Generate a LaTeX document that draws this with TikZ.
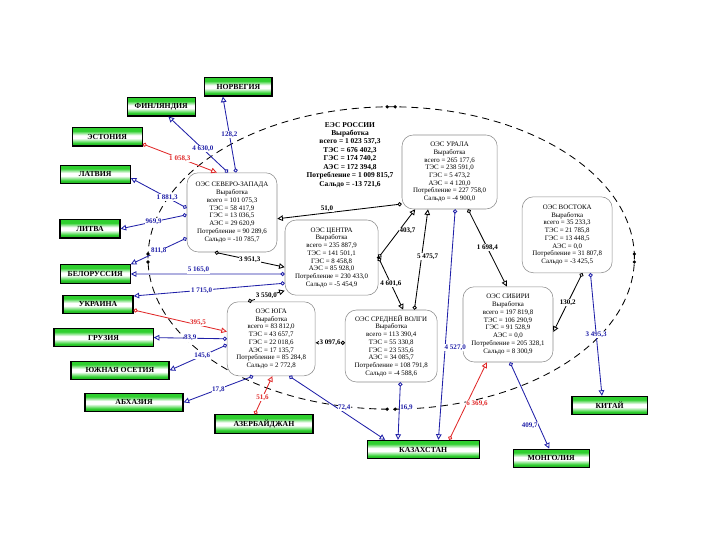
\documentclass[tikz,border=0pt]{standalone}
\usepackage{fontspec}
\setmainfont{Liberation Serif}
\usepackage{xcolor}
\usepackage{tikz}
\usetikzlibrary{arrows.meta}
\definecolor{FlowBlue}{HTML}{2020A8}
\definecolor{FlowRed}{HTML}{E02828}
\definecolor{BoxGreen}{HTML}{2FCF2F}
\definecolor{BoxDark}{HTML}{1FA01F}
\definecolor{RegLine}{HTML}{8C8C8C}
\pgfdeclareverticalshading{boxshade}{100bp}{color(0bp)=(BoxDark); color(25bp)=(BoxDark);
  color(33bp)=(BoxGreen); color(46bp)=(white); color(54bp)=(white); color(66bp)=(BoxGreen);
  color(75bp)=(BoxGreen); color(100bp)=(BoxGreen)}
\tikzset{
  region/.style={draw=RegLine,fill=white,rounded corners=8pt,align=center,inner sep=1pt,
    font=\fontsize{4.9}{5.5}\selectfont},
  country/.style={draw=black,line width=0.8pt,shading=boxshade,
    minimum height=0.46cm,inner sep=1pt,font=\fontsize{5.5}{6}\selectfont\bfseries},
  flowb/.style={FlowBlue,line width=0.6pt,{Circle[open,length=3pt]}-{Triangle[open,length=4pt,width=4pt]}},
  flowr/.style={FlowRed,line width=0.6pt,{Circle[open,length=3pt]}-{Triangle[open,length=4pt,width=4pt]}},
  flowk/.style={black,line width=0.6pt,{Circle[open,length=3pt]}-{Triangle[open,length=4pt,width=4pt]}},
  lblb/.style={FlowBlue,fill=white,inner sep=0.4pt,font=\fontsize{5}{5}\selectfont\bfseries},
  lblr/.style={FlowRed,fill=white,inner sep=0.4pt,font=\fontsize{5}{5}\selectfont\bfseries},
  lblk/.style={black,fill=white,inner sep=0.4pt,font=\fontsize{5}{5}\selectfont\bfseries}
}

\begin{document}
\begin{tikzpicture}[x=1cm,y=1cm]
\path[use as bounding box] (0,0) rectangle (18,13.5);
% border of the UES
\draw[dash pattern=on 5pt off 3.5pt,line width=0.6pt] (9.78,7.05) ellipse (6.08 and 3.78);
\foreach \dx/\dy in {-0.1/3.78,0.1/3.78,-0.1/-3.78,0.1/-3.78,-6.08/0.1,-6.08/-0.1,6.08/0.1,6.08/-0.1}
  \fill ({9.78+\dx},{7.05+\dy}) circle (1.3pt);
% summary
\node[align=center,font=\fontsize{5.3}{6}\selectfont\bfseries] (ees) at (8.75,9.63)
  {ЕЭС РОССИИ\\Выработка\\всего = 1 023 537,3\\ТЭС = 676 402,3\\ГЭС = 174 740,2\\АЭС = 172 394,8\\Потребление = 1 009 815,7\\Сальдо = -13 721,6};
% united power systems
\node[region,minimum width=2.25cm,minimum height=1.98cm] (sz) at (5.80,8.19)
  {ОЭС СЕВЕРО-ЗАПАДА\\Выработка\\всего = 101 075,3\\ТЭС = 58 417,9\\ГЭС = 13 036,5\\АЭС = 29 620,9\\Потребление = 90 289,6\\Сальдо = -10 785,7};
\node[region,minimum width=2.33cm,minimum height=1.88cm] (cen) at (8.29,7.06)
  {ОЭС ЦЕНТРА\\Выработка\\всего = 235 887,9\\ТЭС = 141 501,1\\ГЭС = 8 458,8\\АЭС = 85 928,0\\Потребление = 230 433,0\\Сальдо = -5 454,9};
\node[region,minimum width=2.38cm,minimum height=1.85cm] (ural) at (11.24,9.20)
  {ОЭС УРАЛА\\Выработка\\всего = 265 177,6\\ТЭС = 238 591,0\\ГЭС = 5 473,2\\АЭС = 4 120,0\\Потребление = 227 758,0\\Сальдо = -4 900,0};
\node[region,minimum width=2.25cm,minimum height=1.90cm] (vost) at (14.18,7.63)
  {ОЭС ВОСТОКА\\Выработка\\всего = 35 233,3\\ТЭС = 21 785,8\\ГЭС = 13 448,5\\АЭС = 0,0\\Потребление = 31 807,8\\Сальдо = -3 425,5};
\node[region,minimum width=2.25cm,minimum height=1.88cm] (sib) at (12.70,5.39)
  {ОЭС СИБИРИ\\Выработка\\всего = 197 819,8\\ТЭС = 106 290,9\\ГЭС = 91 528,9\\АЭС = 0,0\\Потребление = 205 328,1\\Сальдо = 8 300,9};
\node[region,minimum width=2.30cm,minimum height=1.80cm] (sv) at (9.78,4.85)
  {ОЭС СРЕДНЕЙ ВОЛГИ\\Выработка\\всего = 113 390,4\\ТЭС = 55 330,8\\ГЭС = 23 535,6\\АЭС = 34 085,7\\Потребление = 108 791,8\\Сальдо = -4 588,6};
\node[region,minimum width=2.20cm,minimum height=1.85cm] (yug) at (6.78,5.03)
  {ОЭС ЮГА\\Выработка\\всего = 83 812,0\\ТЭС = 43 657,7\\ГЭС = 22 018,6\\АЭС = 17 135,7\\Потребление = 85 284,8\\Сальдо = 2 772,8};
% neighbouring countries
\node[country,minimum width=1.68cm] (nor) at (5.96,11.33) {НОРВЕГИЯ};
\node[country,minimum width=1.70cm] (fin) at (4.03,10.83) {ФИНЛЯНДИЯ};
\node[country,minimum width=1.75cm] (est) at (2.68,10.08) {ЭСТОНИЯ};
\node[country,minimum width=1.75cm] (lat) at (2.38,9.14) {ЛАТВИЯ};
\node[country,minimum width=1.50cm] (lit) at (2.25,7.78) {ЛИТВА};
\node[country,minimum width=1.75cm] (bel) at (2.38,6.65) {БЕЛОРУССИЯ};
\node[country,minimum width=1.75cm] (ukr) at (2.45,5.89) {УКРАИНА};
\node[country,minimum width=2.48cm] (gru) at (2.59,5.06) {ГРУЗИЯ};
\node[country,minimum width=2.45cm] (ose) at (3.00,4.24) {ЮЖНАЯ ОСЕТИЯ};
\node[country,minimum width=2.45cm] (abh) at (3.35,3.44) {АБХАЗИЯ};
\node[country,minimum width=2.45cm] (aze) at (6.60,2.90) {АЗЕРБАЙДЖАН};
\node[country,minimum width=2.80cm] (kaz) at (10.58,2.26) {КАЗАХСТАН};
\node[country,minimum width=1.88cm] (kit) at (15.24,3.36) {КИТАЙ};
\node[country,minimum width=1.90cm] (mon) at (13.78,2.04) {МОНГОЛИЯ};
% flows
\draw[flowb] ([xshift=0.10cm]sz.north) -- node[lblb]{128,2} ([xshift=-0.39cm]nor.south);
\draw[flowb] ([xshift=-0.10cm]sz.north) -- node[lblb,pos=0.42]{4 630,0} ([xshift=0.18cm]fin.south);
\draw[flowr] ([yshift=-0.18cm]est.east) -- node[lblr]{1 058,3} ([xshift=-0.38cm]sz.north);
\draw[flowb] ([yshift=0.11cm]sz.west) -- node[lblb,pos=0.35]{1 881,3} ([yshift=-0.09cm]lat.east);
\draw[flowb] ([yshift=-0.06cm]sz.west) -- node[lblb]{969,9} (lit.east);
\draw[flowb] ([yshift=-0.64cm]sz.west) -- node[lblb]{811,8} (bel.north east);
\draw[flowb] ([yshift=-0.41cm]cen.west) -- node[lblb,pos=0.56,above]{5 165,0} (bel.east);
\draw[flowb] ([yshift=-0.64cm]cen.west) -- node[lblb,pos=0.55]{1 715,0} ([yshift=0.21cm]ukr.east);
\draw[flowk] ([xshift=-0.43cm]sz.south) -- node[lblk]{3 951,3} ([yshift=-0.24cm]cen.west);
\draw[flowk] ([yshift=-0.80cm]ural.west) -- node[lblk,pos=0.6,above]{51,0} ([yshift=-0.16cm]sz.east);
\draw[flowk] (cen.east) -- node[lblk,pos=0.55,right]{403,7} ([xshift=-0.86cm]ural.south);
\draw[flowk] (cen.east) -- node[lblk]{4 601,6} ([xshift=0.30cm]sv.north);
\fill (cen.east) circle (1.3pt);
\draw[flowk] ([xshift=0.58cm]sv.north) -- node[lblk,pos=0.53,xshift=0.15cm]{5 475,7} ([xshift=-0.54cm]ural.south);
\draw[flowb] ([xshift=0.14cm]ural.south) -- node[lblb,pos=0.6,right=-1pt]{4 527,0} ([xshift=0.38cm]kaz.north);
\draw[flowk] ([xshift=0.46cm]ural.south) -- node[lblk]{1 698,4} ([xshift=-0.03cm]sib.north);
\draw[flowk] ([xshift=0.38cm]vost.south) -- node[lblk]{130,2} ([yshift=-0.19cm]sib.east);
\draw[flowb] ([xshift=0.58cm]vost.south) -- node[lblb]{3 495,3} ([xshift=-0.19cm]kit.north);
\draw[flowb] ([xshift=0.05cm]sib.south) -- node[lblb,pos=0.73,left]{409,7} ([xshift=-0.05cm]mon.north);
\draw[flowr] ([xshift=0.65cm]kaz.north) -- node[lblr,pos=0.47,right=-1pt]{6 369,6} ([xshift=-0.53cm]sib.south);
\draw[flowb] ([xshift=0.23cm]sv.south) -- node[lblb,pos=0.44,right]{16,9} ([xshift=-0.63cm]kaz.north);
\draw[flowb] ([xshift=0.45cm]yug.south) -- node[lblb,pos=0.5,right]{72,4} ([xshift=-0.95cm]kaz.north);
\draw[flowr] ([xshift=-0.23cm]aze.north) -- node[lblr,pos=0.44]{51,6} ([xshift=0.03cm]yug.south);
\draw[flowb] ([xshift=-0.45cm]yug.south) -- node[lblb]{17,8} (abh.east);
\draw[flowb] ([yshift=-0.15cm]yug.west) -- node[lblb,pos=0.43]{145,6} (ose.east);
\draw[flowb] (yug.west) -- node[lblb]{83,9} (gru.east);
\draw[flowr] ([yshift=-0.14cm]ukr.east) -- node[lblr,pos=0.69,above=-1pt]{395,5} ([yshift=0.18cm]yug.west);
\draw[flowk] ([xshift=-0.58cm]yug.north) -- node[lblk]{3 550,0} ([yshift=0.12cm]cen.south west);
\draw[flowk] ([yshift=0.08cm]sv.west) -- node[lblk]{3 097,6} ([yshift=-0.10cm]yug.east);
\end{tikzpicture}
\end{document}
